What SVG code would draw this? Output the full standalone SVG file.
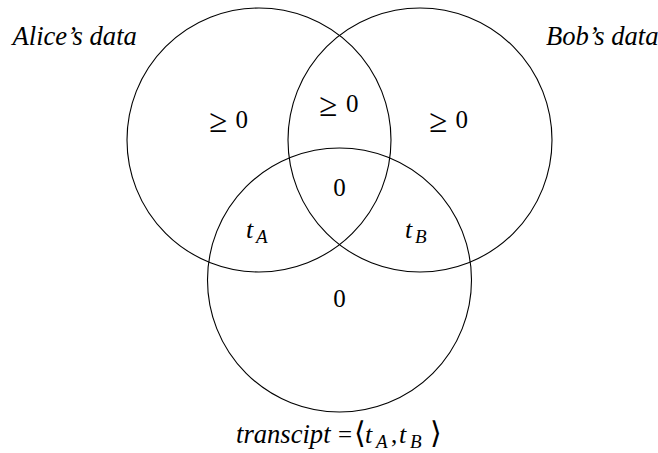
<svg xmlns="http://www.w3.org/2000/svg" width="658" height="453" viewBox="0 0 658 453">
<style>
.c{fill:none;stroke:#000;stroke-width:1.1}
text{fill:#000}
.lbl{font-size:26.6px;font-style:italic}
.m{font-size:25px}
.ge{font-size:33px}
.mi{font-size:26px;font-style:italic}
.sub{font-size:19px;font-style:italic}
.br{font-size:30px}
</style>
<rect width="658" height="453" fill="#fff"/>
<g font-family="Liberation Serif, Times New Roman, DejaVu Serif, serif">
<g id="alice">
<circle class="c" cx="259" cy="140" r="132"/>
<text class="lbl" x="12.5" y="45">Alice’s data</text>
</g>
<g id="bob">
<circle class="c" cx="420" cy="140" r="132"/>
<text class="lbl" x="546" y="45">Bob’s data</text>
</g>
<g id="transcript">
<circle class="c" cx="339.5" cy="280" r="132"/>
<text class="lbl" x="236" y="443">transcipt</text>
<text class="m" x="338" y="443">=</text>
<text class="br" x="354" y="443" font-family="DejaVu Serif, serif">⟨</text>
<text class="mi" x="365" y="443">t</text>
<text class="sub" x="376" y="448">A</text>
<text class="m" x="391" y="443">,</text>
<text class="mi" x="399" y="443">t</text>
<text class="sub" x="410" y="448">B</text>
<text class="br" x="430" y="443" font-family="DejaVu Serif, serif">⟩</text>
</g>
<g id="regions">
<text class="ge" x="209" y="132">≥</text><text class="m" x="235.5" y="128">0</text>
<text class="ge" x="319" y="116">≥</text><text class="m" x="346" y="112">0</text>
<text class="ge" x="429" y="132">≥</text><text class="m" x="455.5" y="128">0</text>
<text class="m" x="339.5" y="196" text-anchor="middle">0</text>
<text class="m" x="339.5" y="307" text-anchor="middle">0</text>
<text class="mi" x="246" y="238">t</text>
<text class="sub" x="256" y="243">A</text>
<text class="mi" x="405" y="238">t</text>
<text class="sub" x="415" y="243">B</text>
</g>
</g>
</svg>
